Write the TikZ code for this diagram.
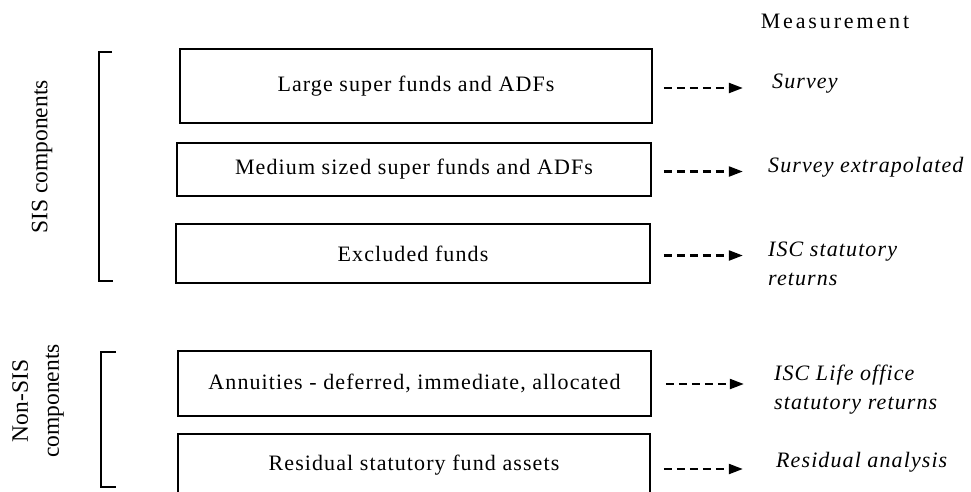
\documentclass[tikz,border=0pt]{standalone}
\usepackage{fontspec}
\setmainfont{Liberation Serif}
\newfontfamily\spacedfont[LetterSpace=5]{Liberation Serif}
\newfontfamily\widefont[LetterSpace=13]{Liberation Serif}
\usetikzlibrary{arrows.meta}
\tikzset{
  box/.style={draw, line width=1.6pt, inner sep=0pt, font=\spacedfont\fontsize{22}{26}\selectfont},
  dasharr/.style={line width=2.2pt, dash pattern=on 8pt off 5pt, -{Triangle[length=14pt,width=10pt]}},
  meas/.style={anchor=west, inner sep=0pt, align=left, font=\spacedfont\itshape\fontsize{22}{29}\selectfont},
  side/.style={inner sep=0pt, rotate=90, align=center, font=\fontsize{23.5}{31}\selectfont},
  brk/.style={line width=1.8pt}
}
\begin{document}
\begin{tikzpicture}[x=1pt,y=-1pt]
\useasboundingbox (0,0) rectangle (971,491);
% header
\node[inner sep=0pt, font=\widefont\fontsize{22}{26}\selectfont] (head) at (835,21) {Measurement};
% boxes
\node[box, minimum width=472pt, minimum height=74pt] (b1) at (416,86) {Large super funds and ADFs};
\node[box, minimum width=474pt, minimum height=53pt] (b2) at (414,169.5) {Medium sized super funds and ADFs};
\node[box, minimum width=474pt, minimum height=59pt] (b3) at (413,253.5) {Excluded funds};
\node[box, minimum width=473pt, minimum height=65pt] (b4) at (414.5,383.5) {Annuities - deferred, immediate, allocated};
\node[box, minimum width=472pt, minimum height=63pt] (b5) at (414,465.5) {Residual statutory fund assets};
% measurement texts
\node[meas] (m1) at (772,84) {Survey};
\node[meas] (m2) at (768,167) {Survey extrapolated};
\node[meas] (m3) at (768,264) {ISC statutory\\returns};
\node[meas] (m4) at (774,390) {ISC Life office\\statutory returns};
\node[meas] (m5) at (776,462) {Residual analysis};
% arrows
\draw[dasharr] ([xshift=11pt,yshift=-2pt]b1.east) -- ([xshift=90pt,yshift=-2pt]b1.east);
\draw[dasharr] ([xshift=12pt,yshift=-2pt]b2.east) -- ([xshift=91pt,yshift=-2pt]b2.east);
\draw[dasharr] ([xshift=13pt,yshift=-2pt]b3.east) -- ([xshift=92pt,yshift=-2pt]b3.east);
\draw[dasharr] ([xshift=14pt,yshift=-0.5pt]b4.east) -- ([xshift=92pt,yshift=-0.5pt]b4.east);
\draw[dasharr] ([xshift=13pt,yshift=-3.5pt]b5.east) -- ([xshift=92pt,yshift=-3.5pt]b5.east);
% brackets
\coordinate (s1) at (112,52);
\coordinate (s2) at (113,281);
\draw[brk] (s1) -- (99,52) -- (99,281) -- (s2);
\coordinate (n1) at (116,352);
\coordinate (n2) at (116,487);
\draw[brk] (n1) -- (101,352) -- (101,487) -- (n2);
% side labels
\node[side] (sis) at (42,157) {SIS components};
\node[side] (nonsis) at (38,401) {Non-SIS\\components};
\end{tikzpicture}
\end{document}
